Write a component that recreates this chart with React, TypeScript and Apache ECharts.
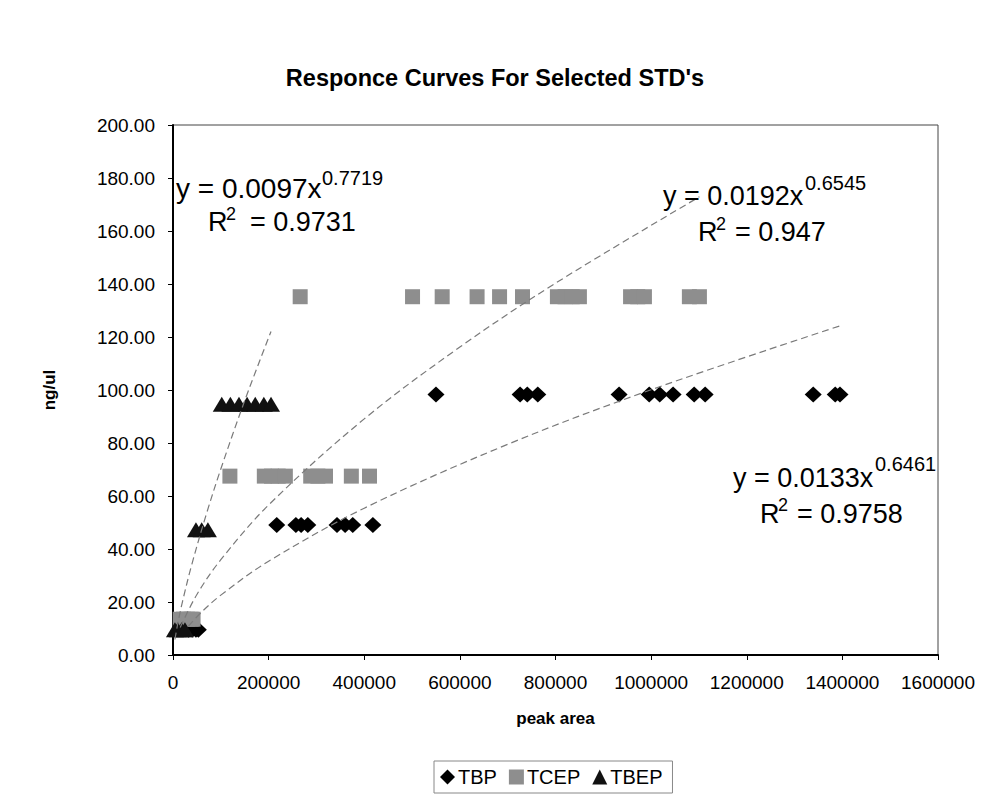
import React, { useEffect, useRef } from "react";
import * as echarts from "echarts";

const FONT = "'Liberation Sans', Arial, Helvetica, sans-serif";

// Scatter data: [peak area, ng/ul]
const tbpData: number[][] = [
  [32000, 9.5], [40000, 9.5], [48000, 9.5], [53000, 9.5],
  [217000, 49.1], [257000, 49.1], [268000, 49.1], [282000, 49.1], [343000, 49.1], [360000, 49.1], [376000, 49.1], [418000, 49.1],
  [550000, 98.3], [726000, 98.3], [741000, 98.3], [763000, 98.3], [933000, 98.3], [996000, 98.3], [1018000, 98.3], [1046000, 98.3],
  [1090000, 98.3], [1113000, 98.3], [1339000, 98.3], [1385000, 98.3], [1395000, 98.3],
];
const tcepData: number[][] = [
  [15000, 13.5], [22000, 13.5], [30000, 13.5], [38000, 13.5], [42000, 13.5],
  [119000, 67.5], [191000, 67.5], [206000, 67.5], [220000, 67.5], [235000, 67.5], [288000, 67.5], [303000, 67.5], [319000, 67.5], [373000, 67.5], [411000, 67.5],
  [266000, 135.2], [501000, 135.2], [563000, 135.2], [636000, 135.2], [683000, 135.2], [731000, 135.2], [804000, 135.2], [820000, 135.2], [835000, 135.2], [850000, 135.2],
  [957000, 135.2], [972000, 135.2], [986000, 135.2], [1080000, 135.2], [1101000, 135.2],
];
const tbepData: number[][] = [
  [4000, 9.5], [10000, 9.5], [18000, 9.5], [25000, 9.5],
  [48000, 47.3], [60000, 47.3], [73000, 47.3],
  [102000, 94.6], [120000, 94.6], [138000, 94.6], [155000, 94.6], [172000, 94.6], [190000, 94.6], [205000, 94.6],
];

// Trend curves (power fits as printed on the chart), sampled points
const tbpTrend: number[][] = [
  [32000, 10.83], [60000, 16.25], [100000, 22.6], [200000, 35.4], [400000, 55.4], [700000, 79.5], [1000000, 100.1], [1395000, 124.2],
];
const tcepTrend: number[][] = [
  [15000, 10.39], [50000, 22.85], [100000, 35.96], [200000, 56.6], [400000, 89.1], [600000, 116.2], [800000, 140.3], [1101000, 172.9],
];
const tbepTrend: number[][] = [
  [4000, 5.85], [10000, 11.87], [20000, 20.27], [40000, 34.6], [70000, 53.3], [100000, 70.2], [150000, 96.0], [205000, 122.1],
];

const seriesNames = ["TBP", "TCEP", "TBEP"];
const titleText = "Responce Curves For Selected STD's";
const xName = "peak area";
const yName = "ng/ul";

const equations = [
  { main: "y = 0.0097x", sup: "0.7719", r: "= 0.9731", mf: 28, mx: 176, my: 188, sx: 322, sy: 178, rx: 208, ry: 222, r2x: 226, r2y: 214, ex: 250 },
  { main: "y = 0.0192x", sup: "0.6545", r: "= 0.947", mf: 27, mx: 663, my: 196, sx: 805, sy: 183, rx: 698, ry: 232, r2x: 716, r2y: 224, ex: 735 },
  { main: "y = 0.0133x", sup: "0.6461", r: "= 0.9758", mf: 27, mx: 733, my: 478, sx: 875, sy: 464, rx: 760, ry: 514, r2x: 778, r2y: 505, ex: 797 },
];

export default function App() {
  const ref = useRef<HTMLDivElement>(null);
  useEffect(() => {
    if (!ref.current) return;
    const chart = echarts.init(ref.current, null, { renderer: "svg" });
    const graphics: any[] = [];
    equations.forEach((e) => {
      const base = { fill: "#000", fontFamily: FONT, verticalAlign: "middle", align: "left" };
      graphics.push({ type: "text", x: e.mx, y: e.my, z: 100, style: { ...base, text: e.main, fontSize: e.mf } });
      graphics.push({ type: "text", x: e.sx, y: e.sy, z: 100, style: { ...base, text: e.sup, fontSize: 20 } });
      graphics.push({ type: "text", x: e.rx, y: e.ry, z: 100, style: { ...base, text: "R", fontSize: 27 } });
      graphics.push({ type: "text", x: e.r2x, y: e.r2y, z: 100, style: { ...base, text: "2", fontSize: 18 } });
      graphics.push({ type: "text", x: e.ex, y: e.ry, z: 100, style: { ...base, text: e.r, fontSize: 27 } });
    });
    const trendStyle = { color: "#7a7a7a", width: 1.2, type: [7, 4] as any };
    chart.setOption({
      animation: false,
      backgroundColor: "#fff",
      title: {
        text: titleText,
        left: "center",
        top: 61,
        textStyle: { fontFamily: FONT, fontSize: 23.5, fontWeight: "bold", color: "#000" },
      },
      grid: {
        left: 173, right: 52, top: 125, bottom: 143,
        show: true, borderColor: "#444", borderWidth: 1, backgroundColor: "#fff",
      },
      legend: {
        data: seriesNames,
        left: 434,
        top: 761,
        itemWidth: 15,
        itemHeight: 15,
        itemGap: 12,
        padding: [6, 10, 6, 6],
        borderColor: "#888",
        borderWidth: 1,
        textStyle: { fontFamily: FONT, fontSize: 20, color: "#000", padding: [0, 0, 0, -2] },
      },
      xAxis: {
        type: "value",
        min: 0, max: 1600000, interval: 200000,
        name: xName,
        nameLocation: "middle",
        nameGap: 55,
        nameTextStyle: { fontFamily: FONT, fontSize: 17, fontWeight: "bold", color: "#000" },
        axisLine: { show: true, lineStyle: { color: "#000", width: 2 } },
        axisTick: { show: true, length: 5, lineStyle: { color: "#000" } },
        axisLabel: { fontFamily: FONT, fontSize: 19, color: "#000", margin: 18, formatter: (v: number) => String(v) },
        splitLine: { show: false },
      },
      yAxis: {
        type: "value",
        min: 0, max: 200, interval: 20,
        name: yName,
        nameLocation: "middle",
        nameGap: 115,
        nameRotate: 90,
        nameTextStyle: { fontFamily: FONT, fontSize: 17, fontWeight: "bold", color: "#000" },
        axisLine: { show: true, lineStyle: { color: "#000", width: 2 } },
        axisTick: { show: true, length: 5, lineStyle: { color: "#000" } },
        axisLabel: { fontFamily: FONT, fontSize: 19, color: "#000", margin: 18, formatter: (v: number) => v.toFixed(2) },
        splitLine: { show: false },
      },
      series: [
        { name: "TBP", type: "scatter", data: tbpData, symbol: "diamond", symbolSize: [17, 16], itemStyle: { color: "#000", opacity: 1 }, z: 2 },
        { name: "TCEP", type: "scatter", data: tcepData, symbol: "rect", symbolSize: [15, 15], itemStyle: { color: "#8e8e8e", opacity: 1 }, z: 3 },
        { name: "TBEP", type: "scatter", data: tbepData, symbol: "triangle", symbolSize: [18, 15], itemStyle: { color: "#111", opacity: 1 }, z: 4 },
        { name: "TBP fit", type: "line", data: tbpTrend, smooth: 0.35, symbol: "none", lineStyle: trendStyle, z: 5 },
        { name: "TCEP fit", type: "line", data: tcepTrend, smooth: 0.35, symbol: "none", lineStyle: trendStyle, z: 5 },
        { name: "TBEP fit", type: "line", data: tbepTrend, smooth: 0.35, symbol: "none", lineStyle: trendStyle, z: 5 },
      ],
      graphic: graphics,
    });
    return () => chart.dispose();
  }, []);
  return <div ref={ref} style={{ position: "fixed", left: 0, top: 0, width: 990, height: 798 }} />;
}
